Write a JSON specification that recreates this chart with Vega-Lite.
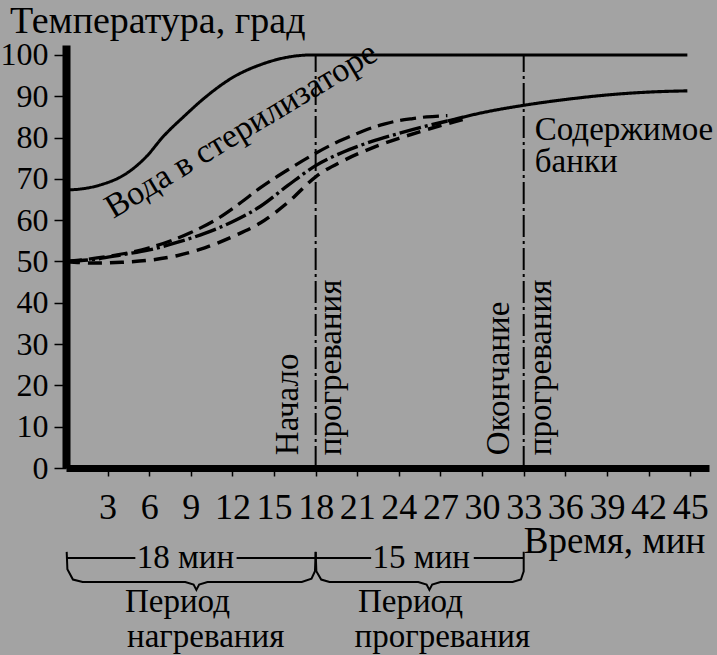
{
  "$schema": "https://vega.github.io/schema/vega-lite/v6.json",
  "width": 643,
  "height": 423,
  "autosize": {"type": "none"},
  "padding": {"left": 66, "top": 45, "right": 8, "bottom": 187},
  "background": "#a3a3a3",
  "config": {"view": {"stroke": null}, "font": "Liberation Serif"},
  "datasets": {
    "curves": [
      {"s": "water", "x": 0, "y": 67.3}, {"s": "water", "x": 1.2, "y": 67.6}, {"s": "water", "x": 2.45, "y": 68.5},
      {"s": "water", "x": 4.4, "y": 71.4}, {"s": "water", "x": 5.8, "y": 75.4}, {"s": "water", "x": 7.0, "y": 80.2},
      {"s": "water", "x": 8.5, "y": 85.1}, {"s": "water", "x": 10.1, "y": 89.9}, {"s": "water", "x": 12.1, "y": 94.7},
      {"s": "water", "x": 14.0, "y": 97.6}, {"s": "water", "x": 15.9, "y": 99.4}, {"s": "water", "x": 17.8, "y": 100},
      {"s": "water", "x": 19, "y": 100}, {"s": "water", "x": 30, "y": 100}, {"s": "water", "x": 44.8, "y": 100},
      {"s": "top", "x": 0, "y": 50}, {"s": "top", "x": 3, "y": 51.2}, {"s": "top", "x": 6, "y": 53.3},
      {"s": "top", "x": 9, "y": 57.0}, {"s": "top", "x": 11, "y": 60.5}, {"s": "top", "x": 12.5, "y": 64.0},
      {"s": "top", "x": 14, "y": 67.8}, {"s": "top", "x": 16, "y": 72.2}, {"s": "top", "x": 18, "y": 76.2},
      {"s": "top", "x": 19, "y": 78.0}, {"s": "top", "x": 20, "y": 79.6},
      {"s": "top", "x": 21, "y": 81.0}, {"s": "top", "x": 22, "y": 82.3}, {"s": "top", "x": 23, "y": 83.3},
      {"s": "top", "x": 24, "y": 84.1}, {"s": "top", "x": 25, "y": 84.6}, {"s": "top", "x": 26, "y": 85.0},
      {"s": "top", "x": 27.5, "y": 85.3},
      {"s": "mid", "x": 0, "y": 50}, {"s": "mid", "x": 2, "y": 50.5}, {"s": "mid", "x": 4, "y": 51.6},
      {"s": "mid", "x": 6, "y": 52.8}, {"s": "mid", "x": 8, "y": 54.6}, {"s": "mid", "x": 10, "y": 56.8},
      {"s": "mid", "x": 12, "y": 59.6}, {"s": "mid", "x": 14, "y": 63.3}, {"s": "mid", "x": 16, "y": 68.4},
      {"s": "mid", "x": 18, "y": 73.2}, {"s": "mid", "x": 20, "y": 76.5}, {"s": "mid", "x": 22, "y": 79.0},
      {"s": "mid", "x": 24, "y": 81.0}, {"s": "mid", "x": 26, "y": 82.8}, {"s": "mid", "x": 27.5, "y": 84.0},
      {"s": "low", "x": 0, "y": 50}, {"s": "low", "x": 2, "y": 49.6}, {"s": "low", "x": 4, "y": 49.8},
      {"s": "low", "x": 6, "y": 50.3}, {"s": "low", "x": 8, "y": 51.4}, {"s": "low", "x": 10, "y": 53.3},
      {"s": "low", "x": 12, "y": 56.0}, {"s": "low", "x": 14, "y": 59.3}, {"s": "low", "x": 16, "y": 64.3},
      {"s": "low", "x": 18, "y": 70.5}, {"s": "low", "x": 20, "y": 74.4}, {"s": "low", "x": 22, "y": 77.4},
      {"s": "low", "x": 24, "y": 79.8}, {"s": "low", "x": 26, "y": 81.9}, {"s": "low", "x": 28, "y": 83.8},
      {"s": "low", "x": 29, "y": 84.7},
      {"s": "solid", "x": 27.5, "y": 84.0}, {"s": "solid", "x": 30, "y": 86.0}, {"s": "solid", "x": 33, "y": 87.8},
      {"s": "solid", "x": 36, "y": 89.2}, {"s": "solid", "x": 39, "y": 90.3}, {"s": "solid", "x": 42, "y": 91.0},
      {"s": "solid", "x": 44.8, "y": 91.3}
    ],
    "vlines": [
      {"x": 18, "y": 0, "y2": 100},
      {"x": 33, "y": 0, "y2": 100}
    ],
    "braces": [
      {"g": "b1", "i": 0, "x": 0.05, "y": -20.3}, {"g": "b1", "i": 1, "x": 0.1, "y": -24.5}, {"g": "b1", "i": 2, "x": 0.5, "y": -27.0},
      {"g": "b1", "i": 3, "x": 1.2, "y": -27.6}, {"g": "b1", "i": 4, "x": 8.6, "y": -27.6}, {"g": "b1", "i": 5, "x": 9.2, "y": -28.2},
      {"g": "b1", "i": 6, "x": 9.4, "y": -29.5}, {"g": "b1", "i": 7, "x": 9.6, "y": -28.2}, {"g": "b1", "i": 8, "x": 10.2, "y": -27.6},
      {"g": "b1", "i": 9, "x": 17.0, "y": -27.6}, {"g": "b1", "i": 10, "x": 17.7, "y": -26.8}, {"g": "b1", "i": 11, "x": 17.95, "y": -25.0},
      {"g": "b1", "i": 12, "x": 18, "y": -20.3},
      {"g": "b2", "i": 0, "x": 18, "y": -20.3}, {"g": "b2", "i": 1, "x": 18.05, "y": -25.0}, {"g": "b2", "i": 2, "x": 18.4, "y": -27.0},
      {"g": "b2", "i": 3, "x": 19.0, "y": -27.6}, {"g": "b2", "i": 4, "x": 25.4, "y": -27.6}, {"g": "b2", "i": 5, "x": 26.0, "y": -28.2},
      {"g": "b2", "i": 6, "x": 26.2, "y": -29.5}, {"g": "b2", "i": 7, "x": 26.4, "y": -28.2}, {"g": "b2", "i": 8, "x": 27.0, "y": -27.6},
      {"g": "b2", "i": 9, "x": 32.2, "y": -27.6}, {"g": "b2", "i": 10, "x": 32.8, "y": -27.0}, {"g": "b2", "i": 11, "x": 33, "y": -25.0},
      {"g": "b2", "i": 12, "x": 33, "y": -20.3},
      {"g": "l1a", "i": 0, "x": 0, "y": -21.8}, {"g": "l1a", "i": 1, "x": 5.0, "y": -21.8},
      {"g": "l1b", "i": 0, "x": 12.3, "y": -21.8}, {"g": "l1b", "i": 1, "x": 18, "y": -21.8},
      {"g": "l2a", "i": 0, "x": 18, "y": -21.8}, {"g": "l2a", "i": 1, "x": 22.0, "y": -21.8},
      {"g": "l2b", "i": 0, "x": 29.4, "y": -21.8}, {"g": "l2b", "i": 1, "x": 33, "y": -21.8}
    ],
    "labels": [
      {"t": "Содержимое", "x": 33.8, "y": 81.8},
      {"t": "банки", "x": 33.8, "y": 74.1},
      {"t": "18 мин", "x": 5.1, "y": -21.8},
      {"t": "15 мин", "x": 22.1, "y": -21.8},
      {"t": "Период", "x": 4.25, "y": -32.4},
      {"t": "нагревания", "x": 4.4, "y": -40.9},
      {"t": "Период", "x": 21.05, "y": -32.4},
      {"t": "прогревания", "x": 20.8, "y": -40.9}
    ],
    "titlelabel": [
      {"t": "Температура, град", "x": -4.04, "y": 105.3}
    ],
    "biglabels": [
      {"t": "Время, мин", "x": 33.0, "y": -17.9}
    ],
    "vlabels": [
      {"t": "Начало", "x": 16.73, "y": 3.1},
      {"t": "прогревания", "x": 19.83, "y": 3.1},
      {"t": "Окончание", "x": 31.94, "y": 3.1},
      {"t": "прогревания", "x": 34.97, "y": 3.1}
    ],
    "dlabels": [
      {"t": "Вода в стерилизаторе", "x": 3.4, "y": 60.3}
    ]
  },
  "layer": [
    {
      "data": {"name": "curves"},
      "mark": {"type": "line", "color": "black", "interpolate": "monotone", "clip": false},
      "encoding": {
        "x": {"field": "x", "type": "quantitative", "title": null, "scale": {"domain": [0, 46.36], "nice": false, "zero": false},
          "axis": {"values": [3, 6, 9, 12, 15, 18, 21, 24, 27, 30, 33, 36, 39, 42, 45], "title": null, "grid": false,
            "domainColor": "black", "domainWidth": 7, "tickColor": "black", "tickSize": 8, "tickWidth": 1.5,
            "labelFont": "Liberation Serif", "labelFontSize": 36, "labelColor": "black", "labelPadding": 14,
            "labelOverlap": false, "labelFlush": false}},
        "y": {"field": "y", "type": "quantitative", "title": null, "scale": {"domain": [0, 102.4], "nice": false, "zero": false},
          "axis": {"values": [0, 10, 20, 30, 40, 50, 60, 70, 80, 90, 100], "title": null, "grid": false,
            "domainColor": "black", "domainWidth": 8, "tickColor": "black", "tickSize": 12, "tickWidth": 1.5,
            "labelFont": "Liberation Serif", "labelFontSize": 32, "labelColor": "black", "labelPadding": 6,
            "labelOverlap": false, "labelFlush": false}},
        "strokeDash": {"field": "s", "type": "nominal", "legend": null,
          "scale": {"domain": ["water", "solid", "top", "mid", "low"], "range": [[1, 0], [1, 0], [16, 7], [22, 4, 3, 4], [14, 8]]}},
        "size": {"field": "s", "type": "nominal", "legend": null,
          "scale": {"domain": ["water", "solid", "top", "mid", "low"], "range": [3, 3.5, 2, 2.5, 2]}}
      }
    },
    {
      "data": {"name": "vlines"},
      "mark": {"type": "rule", "color": "black", "strokeWidth": 2, "strokeDash": [22, 4, 3, 4]},
      "encoding": {
        "x": {"field": "x", "type": "quantitative", "title": null, "scale": {"domain": [0, 46.36], "nice": false, "zero": false}},
        "y": {"field": "y", "type": "quantitative", "title": null, "scale": {"domain": [0, 102.4], "nice": false, "zero": false}},
        "y2": {"field": "y2"}
      }
    },
    {
      "data": {"name": "braces"},
      "mark": {"type": "line", "color": "black", "strokeWidth": 2, "clip": false},
      "encoding": {
        "x": {"field": "x", "type": "quantitative", "title": null, "scale": {"domain": [0, 46.36], "nice": false, "zero": false}},
        "y": {"field": "y", "type": "quantitative", "title": null, "scale": {"domain": [0, 102.4], "nice": false, "zero": false}},
        "detail": {"field": "g", "type": "nominal"},
        "order": {"field": "i", "type": "quantitative"}
      }
    },
    {
      "data": {"name": "labels"},
      "mark": {"type": "text", "color": "black", "font": "Liberation Serif", "fontSize": 33, "align": "left", "baseline": "middle", "clip": false},
      "encoding": {
        "x": {"field": "x", "type": "quantitative", "title": null, "scale": {"domain": [0, 46.36], "nice": false, "zero": false}},
        "y": {"field": "y", "type": "quantitative", "title": null, "scale": {"domain": [0, 102.4], "nice": false, "zero": false}},
        "text": {"field": "t"}
      }
    },
    {
      "data": {"name": "titlelabel"},
      "mark": {"type": "text", "color": "black", "font": "Liberation Serif", "fontSize": 38, "align": "left", "baseline": "alphabetic", "clip": false},
      "encoding": {
        "x": {"field": "x", "type": "quantitative", "title": null, "scale": {"domain": [0, 46.36], "nice": false, "zero": false}},
        "y": {"field": "y", "type": "quantitative", "title": null, "scale": {"domain": [0, 102.4], "nice": false, "zero": false}},
        "text": {"field": "t"}
      }
    },
    {
      "data": {"name": "biglabels"},
      "mark": {"type": "text", "color": "black", "font": "Liberation Serif", "fontSize": 37, "align": "left", "baseline": "middle", "clip": false},
      "encoding": {
        "x": {"field": "x", "type": "quantitative", "title": null, "scale": {"domain": [0, 46.36], "nice": false, "zero": false}},
        "y": {"field": "y", "type": "quantitative", "title": null, "scale": {"domain": [0, 102.4], "nice": false, "zero": false}},
        "text": {"field": "t"}
      }
    },
    {
      "data": {"name": "vlabels"},
      "mark": {"type": "text", "color": "black", "font": "Liberation Serif", "fontSize": 33, "align": "left", "baseline": "alphabetic", "angle": 270, "clip": false},
      "encoding": {
        "x": {"field": "x", "type": "quantitative", "title": null, "scale": {"domain": [0, 46.36], "nice": false, "zero": false}},
        "y": {"field": "y", "type": "quantitative", "title": null, "scale": {"domain": [0, 102.4], "nice": false, "zero": false}},
        "text": {"field": "t"}
      }
    },
    {
      "data": {"name": "dlabels"},
      "mark": {"type": "text", "color": "black", "font": "Liberation Serif", "fontSize": 34, "align": "left", "baseline": "alphabetic", "angle": -31, "clip": false},
      "encoding": {
        "x": {"field": "x", "type": "quantitative", "title": null, "scale": {"domain": [0, 46.36], "nice": false, "zero": false}},
        "y": {"field": "y", "type": "quantitative", "title": null, "scale": {"domain": [0, 102.4], "nice": false, "zero": false}},
        "text": {"field": "t"}
      }
    }
  ]
}
